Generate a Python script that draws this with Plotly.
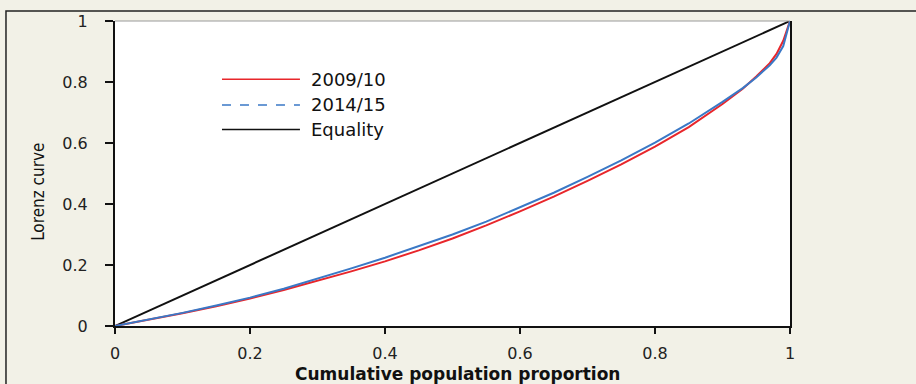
import plotly.graph_objects as go

# Cumulative population share (x) and cumulative income share (Lorenz ordinates)
pop_share = [0, 0.05, 0.1, 0.15, 0.2, 0.25, 0.3, 0.35, 0.4, 0.45, 0.5, 0.55, 0.6,
             0.65, 0.7, 0.75, 0.8, 0.85, 0.9, 0.93, 0.95, 0.97, 0.98, 0.99, 1.0]
lorenz_2009_10 = [0, 0.020, 0.042, 0.065, 0.090, 0.118, 0.148, 0.179, 0.212, 0.248,
                  0.287, 0.330, 0.376, 0.424, 0.476, 0.530, 0.588, 0.652, 0.728,
                  0.778, 0.818, 0.862, 0.892, 0.935, 1.0]
lorenz_2014_15 = [0, 0.021, 0.043, 0.067, 0.093, 0.122, 0.155, 0.189, 0.224, 0.261,
                  0.300, 0.342, 0.389, 0.437, 0.489, 0.543, 0.601, 0.664, 0.735,
                  0.780, 0.815, 0.855, 0.880, 0.918, 1.0]
equality_x = [0, 1]
equality_y = [0, 1]

series_names = ["2009/10", "2014/15", "Equality"]
series_colors = ["#e8262b", "#3a78c6", "#111111"]
legend_dash = ["solid", "dash", "solid"]
axis_ticks = [0, 0.2, 0.4, 0.6, 0.8, 1]

fig = go.Figure()
fig.add_trace(go.Scatter(x=equality_x, y=equality_y, mode="lines", name=series_names[2],
                         line=dict(color=series_colors[2], width=2), showlegend=False))
fig.add_trace(go.Scatter(x=pop_share, y=lorenz_2009_10, mode="lines", name=series_names[0],
                         line=dict(color=series_colors[0], width=2), showlegend=False))
fig.add_trace(go.Scatter(x=pop_share, y=lorenz_2014_15, mode="lines", name=series_names[1],
                         line=dict(color=series_colors[1], width=2), showlegend=False))

tick_font = dict(family="DejaVu Sans, Liberation Sans, sans-serif", size=16, color="#222222")

shapes = [
    # outer frame around the chart panel
    dict(type="rect", xref="paper", yref="paper", x0=-0.1615, x1=1.25, y0=-0.30, y1=1.0324,
         line=dict(color="#222222", width=1.5), fillcolor="rgba(0,0,0,0)", layer="below"),
    # thin top border of the plotting area
    dict(type="line", xref="paper", yref="paper", x0=0, x1=1, y0=1, y1=1,
         line=dict(color="#9a9a9a", width=1)),
]
annotations = []

# in-plot legend with long line samples
legend_rows = [0.809, 0.725, 0.644]
for name, color, dash, yrow in zip(series_names, series_colors, legend_dash, legend_rows):
    shapes.append(dict(type="line", xref="paper", yref="paper", x0=0.1585, x1=0.274,
                       y0=yrow, y1=yrow, line=dict(color=color, width=1.5, dash=dash)))
    annotations.append(dict(xref="paper", yref="paper", x=0.287, y=yrow, text=name,
                            showarrow=False, xanchor="left", yanchor="middle",
                            font=dict(family="DejaVu Sans, Liberation Sans, sans-serif",
                                      size=18, color="#111111")))

annotations.append(dict(xref="paper", yref="paper", x=-0.114, y=0.44, text="Lorenz curve",
                        textangle=-90, showarrow=False, xanchor="center", yanchor="middle",
                        font=dict(family="Liberation Sans Narrow, DejaVu Sans Condensed, sans-serif",
                                  size=17, color="#111111")))
annotations.append(dict(xref="paper", yref="paper", x=0.508, y=-0.158,
                        text="<b>Cumulative population proportion</b>",
                        showarrow=False, xanchor="center", yanchor="middle",
                        font=dict(family="DejaVu Sans, Liberation Sans, sans-serif",
                                  size=17, color="#111111")))

fig.update_layout(
    width=916, height=384,
    margin=dict(l=115, r=126, t=17, b=58),
    paper_bgcolor="#f2f1e7",
    plot_bgcolor="#ffffff",
    showlegend=False,
    shapes=shapes,
    annotations=annotations,
    xaxis=dict(range=[0, 1], tickvals=axis_ticks, showgrid=False, zeroline=False,
               showline=True, linecolor="#111111", linewidth=2, mirror=False,
               ticks="outside", ticklen=6, tickwidth=1.5, tickcolor="#111111",
               tickfont=tick_font, ticklabelstandoff=6),
    yaxis=dict(range=[0, 1], tickvals=axis_ticks, showgrid=False, zeroline=False,
               showline=True, linecolor="#111111", linewidth=2, mirror=True,
               ticks="outside", ticklen=8, tickwidth=1.5, tickcolor="#111111",
               tickfont=tick_font, ticklabelstandoff=14),
)

fig.write_html("out.html")
